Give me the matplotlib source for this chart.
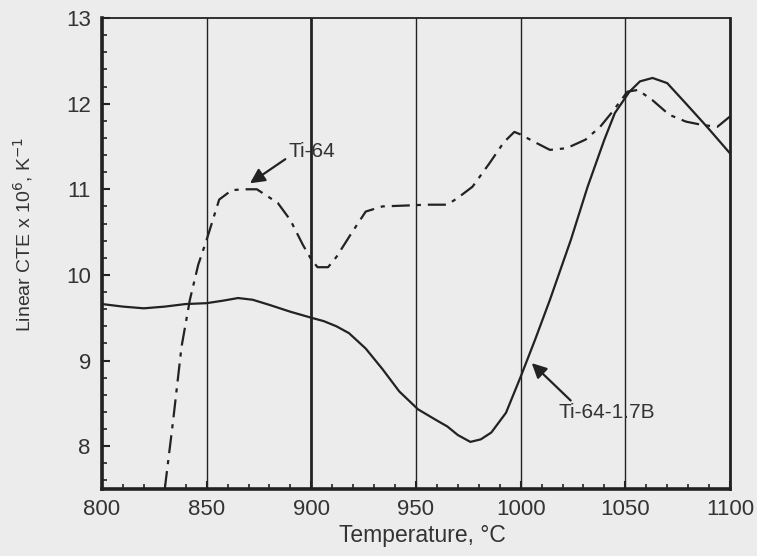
import numpy as np
from matplotlib import pyplot as plt

plt.rcParams['font.family'] = ['Liberation Sans', 'DejaVu Sans']
plt.rcParams['lines.scale_dashes'] = False

# Ti-64-1.7B (solid curve)
tempB = [800, 810, 820, 830, 840, 850, 858, 865, 872, 880, 890, 900, 906, 912, 918,
         926, 934, 942, 951, 960, 965, 970, 976, 981, 986, 993, 1000, 1007, 1014,
         1024, 1032, 1040, 1045, 1052, 1057, 1063, 1070, 1079, 1089, 1100]
cteB = [9.66, 9.63, 9.61, 9.63, 9.66, 9.67, 9.70, 9.73, 9.71, 9.65, 9.57, 9.50, 9.46, 9.40, 9.32,
        9.14, 8.90, 8.64, 8.43, 8.30, 8.23, 8.13, 8.05, 8.08, 8.16, 8.39, 8.81, 9.25, 9.71,
        10.41, 11.03, 11.58, 11.89, 12.14, 12.26, 12.30, 12.24, 12.00, 11.73, 11.42]

# Ti-64 (dash-dot curve)
temp64 = [830, 834, 838, 842, 846, 850, 856, 862, 868, 874, 879, 884, 890, 896, 900,
          903, 908, 912, 919, 926, 934, 945, 955, 965, 970, 977, 985, 992, 997, 1000,
          1006, 1014, 1022, 1031, 1038, 1044, 1051, 1056, 1063, 1071, 1079, 1087, 1094, 1100]
cte64 = [7.5, 8.3, 9.16, 9.71, 10.12, 10.41, 10.88, 10.99, 11.0, 11.0, 10.92, 10.84, 10.64, 10.35, 10.18,
         10.09, 10.09, 10.21, 10.48, 10.74, 10.80, 10.81, 10.82, 10.82, 10.90, 11.03, 11.30, 11.55, 11.67, 11.64,
         11.56, 11.46, 11.48, 11.58, 11.73, 11.91, 12.14, 12.16, 12.04, 11.87, 11.79, 11.75, 11.73, 11.85]

xticks = [800, 850, 900, 950, 1000, 1050, 1100]
yticks = [8, 9, 10, 11, 12, 13]

bg = '#ececec'
ink = '#222222'

fig = plt.figure(figsize=(7.57, 5.56), dpi=100, facecolor=bg)
ax = fig.add_axes([0.1347, 0.1205, 0.8296, 0.8471])
ax.set_facecolor(bg)

ax.plot(tempB, cteB, color=ink, lw=1.6)
ax.plot(temp64, cte64, color=ink, lw=1.6, dashes=(13, 5, 3, 5))

ax.set_xlim(800, 1100)
ax.set_ylim(7.5, 13)
ax.set_xticks(xticks)
ax.set_yticks(yticks)
ax.set_xticks(np.arange(800, 1101, 10), minor=True)
ax.set_yticks(np.arange(7.6, 13.01, 0.2), minor=True)
ax.tick_params(axis='both', which='both', direction='in', colors=ink, labelcolor='#333333',
               labelsize=16, top=False, right=False)
ax.tick_params(which='major', length=6, width=1.5)
ax.tick_params(which='minor', length=3.5, width=1.2)
ax.tick_params(axis='y', pad=8)
ax.tick_params(axis='x', pad=7)

# vertical lines at each major x tick
ax.grid(axis='x', color=ink, lw=1.0)
for gl, t in zip(ax.xaxis.get_gridlines(), xticks):
    if t == 900:
        gl.set_linewidth(2.0)

ax.spines['left'].set_linewidth(2.6)
ax.spines['bottom'].set_linewidth(2.6)
ax.spines['right'].set_linewidth(2.0)
ax.spines['top'].set_linewidth(1.3)
for s in ax.spines.values():
    s.set_color(ink)

ax.set_xlabel('Temperature, °C', fontsize=16.5, color='#333333')
ax.xaxis.set_label_coords(0.51, -0.075)
ax.set_ylabel('Linear CTE x 10$^{6}$, K$^{-1}$', fontsize=14, color='#333333')
ax.yaxis.set_label_coords(-0.107, 0.54)

arrow = dict(arrowstyle='-|>', color=ink, lw=1.6, mutation_scale=22, shrinkA=0, shrinkB=0)
ax.annotate('Ti-64', xy=(870.7, 11.07), xytext=(888.9, 11.44), fontsize=15, color='#333333',
            ha='left', va='center', arrowprops=dict(arrow, relpos=(0.0, 0.2)))
ax.annotate('Ti-64-1.7B', xy=(1005.3, 8.97), xytext=(1017.9, 8.39), fontsize=15, color='#333333',
            ha='left', va='center', arrowprops=dict(arrow, relpos=(0.16, 1.0)))

fig.savefig('out.png', dpi=100, facecolor=bg)
